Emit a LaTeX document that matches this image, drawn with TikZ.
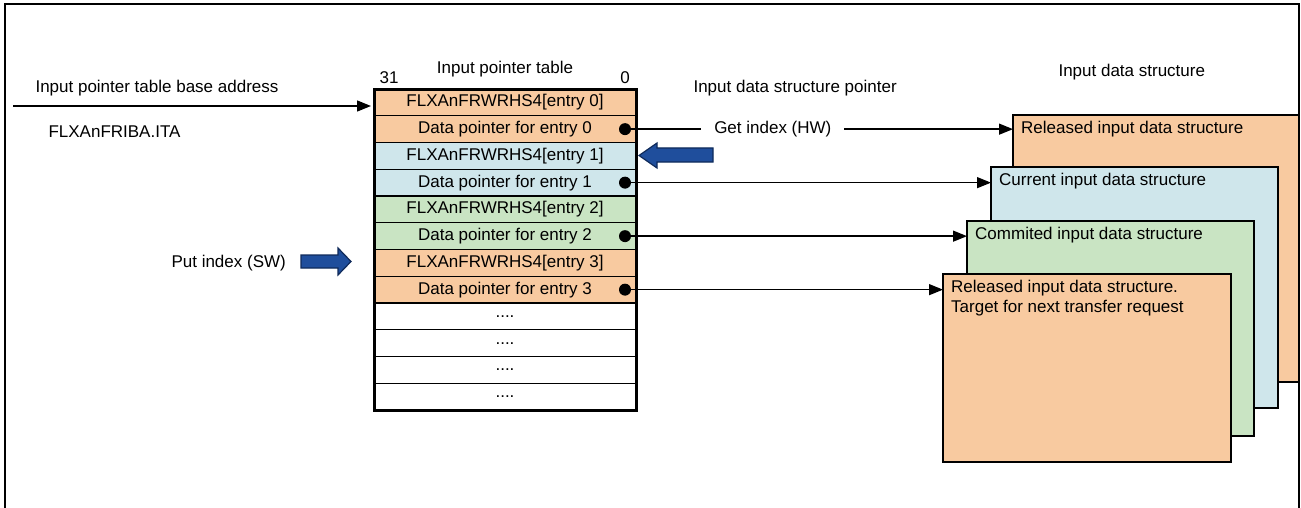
\documentclass[tikz,border=0pt]{standalone}
\usepackage{fontspec}
\setmainfont{Liberation Sans}
\usepackage{tikz}
\usetikzlibrary{arrows.meta, positioning, calc}

\definecolor{peach}{HTML}{F8CAA0}
\definecolor{paleblue}{HTML}{CFE6EB}
\definecolor{palegreen}{HTML}{C9E4C3}
\definecolor{idxblue}{HTML}{1F4E9C}
\definecolor{idxedge}{HTML}{0F2A5A}

\begin{document}
\begin{tikzpicture}[x=1pt, y=-1pt,
  font=\fontsize{17}{20}\selectfont,
  row/.style={rectangle, draw, line width=1.2pt, minimum width=262pt, minimum height=26.75pt, inner sep=0pt, outer sep=0pt},
  dot/.style={circle, fill=black, minimum size=12pt, inner sep=0pt},
  databox/.style={rectangle, draw, line width=2.6pt, anchor=north west, inner sep=0pt, outer sep=0pt},
  boxlabel/.style={anchor=north west, align=left, inner sep=0pt, xshift=8pt, yshift=-6pt},
  ptr/.style={line width=1.4pt, -{Triangle[length=14pt,width=11pt]}},
  blockarrow/.style={fill=idxblue, draw=idxedge, line width=1.2pt}]

\useasboundingbox (0,0) rectangle (1301,508);

% input pointer table
\node[row, fill=peach] (ent0) at (505,102.4) {FLXAnFRWRHS4[entry 0]};
\node[row, fill=peach, below=0pt of ent0] (ptr0) {Data pointer for entry 0};
\node[row, fill=paleblue, below=0pt of ptr0] (ent1) {FLXAnFRWRHS4[entry 1]};
\node[row, fill=paleblue, below=0pt of ent1] (ptr1) {Data pointer for entry 1};
\node[row, fill=palegreen, below=0pt of ptr1] (ent2) {FLXAnFRWRHS4[entry 2]};
\node[row, fill=palegreen, below=0pt of ent2] (ptr2) {Data pointer for entry 2};
\node[row, fill=peach, below=0pt of ptr2] (ent3) {FLXAnFRWRHS4[entry 3]};
\node[row, fill=peach, below=0pt of ent3] (ptr3) {Data pointer for entry 3};
\node[row, fill=white, below=0pt of ptr3] (free1) {....};
\node[row, fill=white, below=0pt of free1] (free2) {....};
\node[row, fill=white, below=0pt of free2] (free3) {....};
\node[row, fill=white, below=0pt of free3] (free4) {....};
\draw[line width=3pt] (ent0.north west) rectangle (free4.south east);

\node[anchor=base] (msb) at (389,84) {31};
\node[anchor=base] (lsb) at (625,84) {0};
\node[anchor=base] (tbltitle) at (505,74) {Input pointer table};

% pointer dots
\node[dot] (p0) at ([xshift=-11pt]ptr0.east) {};
\node[dot] (p1) at ([xshift=-11pt]ptr1.east) {};
\node[dot] (p2) at ([xshift=-11pt]ptr2.east) {};
\node[dot] (p3) at ([xshift=-11pt]ptr3.east) {};

% base address
\node[anchor=base west] (baselbl) at (32,93) {Input pointer table base address};
\node[anchor=base west] (regname) at (45,138) {FLXAnFRIBA.ITA};
\coordinate (base) at (13,106);
\draw[ptr, shorten >=3pt] (base) -- (base -| ent0.west);

% input data structures
\node[anchor=base west] (dsptr) at (690,93) {Input data structure pointer};
\node[anchor=base west] (dstitle) at (1055,77) {Input data structure};

\node[databox, fill=peach, minimum width=286pt, minimum height=267pt,
  label={[boxlabel]north west:Released input data structure}] (rel) at (1013,115) {};
\node[databox, fill=paleblue, minimum width=287pt, minimum height=241pt,
  label={[boxlabel]north west:Current input data structure}] (cur) at (991,167) {};
\node[databox, fill=palegreen, minimum width=287pt, minimum height=215pt,
  label={[boxlabel]north west:Commited input data structure}] (com) at (967,221) {};
\node[databox, fill=peach, minimum width=288pt, minimum height=188pt,
  label={[boxlabel]north west:Released input data structure.\\Target for next transfer request}] (nxt) at (943,274) {};

% pointers
\draw[ptr] (p0.center) -- node[pos=0.381, fill=white, inner xsep=13pt, inner ysep=2pt] (getidx) {Get index (HW)} (p0.center -| rel.west);
\draw[ptr] (p1.center) -- (p1.center -| cur.west);
\draw[ptr] (p2.center) -- (p2.center -| com.west);
\draw[ptr] (p3.center) -- (p3.center -| nxt.west);

% index arrows
\draw[blockarrow] (713,148) -- (657,148) -- (657,143) -- (639,155.5) -- (657,168) -- (657,162) -- (713,162) -- cycle;
\node[anchor=base west] (putidx) at (168,267) {Put index (SW)};
\draw[blockarrow] (301,255) -- (338,255) -- (338,248) -- (351,261.5) -- (338,275) -- (338,268) -- (301,268) -- cycle;

% frame
\draw[line width=2pt] (5,508) |- (1299,4) -- (1299,508);

\end{tikzpicture}
\end{document}
